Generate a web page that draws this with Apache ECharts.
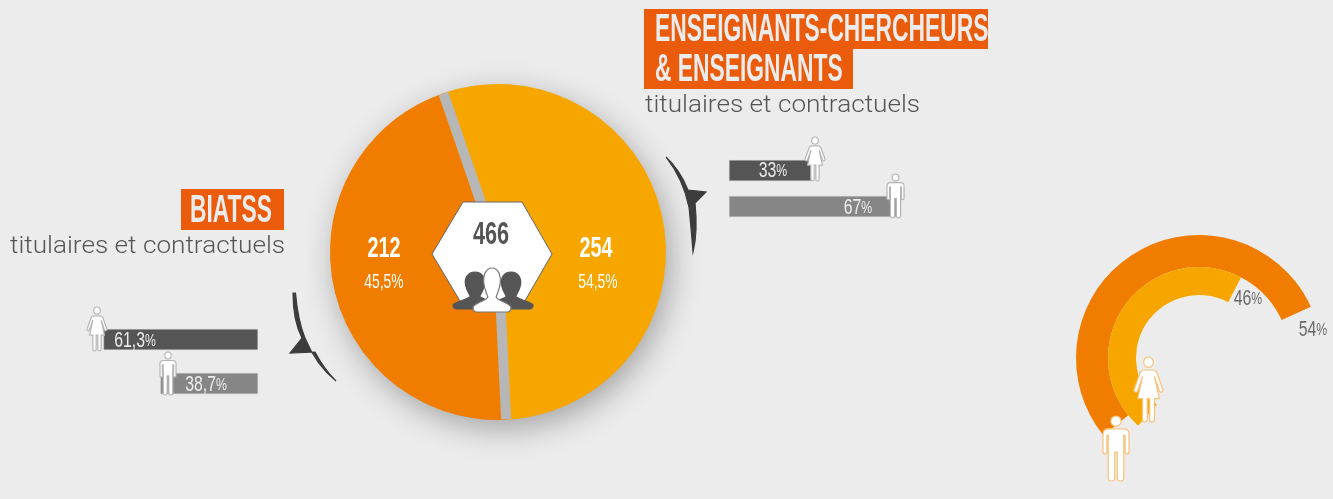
<!DOCTYPE html>
<html>
<head>
	<title>Effectifs BIATSS et enseignants</title>
	<meta charset="utf-8">
	<style type="text/css">
		html, body { margin: 0; padding: 0; background: #ececec; }
		#chart { width: 1333px; height: 499px; }
	</style>
</head>
<body>
<div id="chart"></div>

<script src="https://cdn.jsdelivr.net/npm/echarts@6/dist/echarts.min.js"></script>
<script type="text/javascript">

	// ===========================================  data
	var staffNames = ['ENSEIGNANTS-CHERCHEURS & ENSEIGNANTS', 'BIATSS'];
	var staffCounts = [254, 212];
	var staffShares = ['54,5%', '45,5%'];
	var staffTotal = 466;

	var genderNames = ['Femmes', 'Hommes'];
	var teacherGender = [33, 67];
	var biatssGender = [61.3, 38.7];
	var overallGender = [46, 54];

	var subtitle = 'titulaires et contractuels';

	// ===========================================  style
	var AMBER = '#f7a600', ORANGE = '#f07d00', HEAD = '#ea5b0c', TXT = '#ececec';
	var SANS = '"Liberation Sans", sans-serif';
	var PIE_C = [498, 252], PIE_R = 168, PIE_START = 109;

	var MAN = 'M10 0a4 4 0 1 1 0 8a4 4 0 1 1 0-8z M4 10h12q4 0 4 4v14a1.5 1.5 0 0 1-3 0v-13h-1v33a2.5 2.5 0 0 1-5 0v-20h-2v20a2.5 2.5 0 0 1-5 0v-33h-1v13a1.5 1.5 0 0 1-3 0v-14q0-4 4-4z';
	var WOMAN = 'M12 0a4 4 0 1 1 0 8a4 4 0 1 1 0-8z M8 10h8q2 0 3 2l5 13a1.5 1.5 0 0 1-3 1l-4-11l4 17h-4v16a2 2 0 0 1-4 0v-16h-2v16a2 2 0 0 1-4 0v-16h-4l4-17l-4 11a1.5 1.5 0 0 1-3-1l5-13q1-2 3-2z';
	var BUST = 'M23 0C31 0 34 8 33 15C32 22 29 26 28 29C30 33 42 34 46 39Q46 44 42 44L4 44Q0 44 0 39C4 34 16 33 18 29C17 26 14 22 13 15C12 8 15 0 23 0Z';

	// svg paths only work in a custom series, the graphic component has no path type
	function icon(path, x, y, w, h, fill, stroke) {
		return {
			type: 'path',
			shape: { pathData: path, layout: 'cover', x: x, y: y, width: w, height: h },
			style: { fill: fill, stroke: stroke, lineWidth: 1.2 }
		};
	}

	function rect(x, y, w, h) {
		return { type: 'rect', z: 20, silent: true, shape: { x: x, y: y, width: w, height: h }, style: { fill: HEAD } };
	}

	// no condensed font is installed, so the text is squeezed horizontally
	function heading(text, x, y) {
		return {
			type: 'text', z: 21, silent: true, x: x, y: y, scaleX: 0.585,
			style: { text: text, fill: TXT, font: 'bold 39px ' + SANS, verticalAlign: 'middle' }
		};
	}

	function subTitle(x, y) {
		return {
			type: 'text', z: 21, silent: true, x: x, y: y, scaleX: 1.09,
			style: { text: subtitle, fill: '#555', font: '300 24px Roboto', verticalAlign: 'middle' }
		};
	}

	function condensed(text, x, y, font, fill, squeeze) {
		return {
			type: 'text', z: 21, silent: true, x: x, y: y, scaleX: squeeze,
			style: { text: text, fill: fill, font: font + ' ' + SANS, align: 'center', verticalAlign: 'middle' }
		};
	}

	// number with a smaller percent sign
	function percentText(value, x, y, fill) {
		var s = String(value).replace('.', ',');
		return {
			type: 'text', z: 21, silent: true, x: x, y: y, scaleX: 0.72,
			style: {
				text: '{n|' + s + '}{p|%}', fill: fill, align: 'center', verticalAlign: 'middle',
				rich: {
					n: { fontFamily: 'Liberation Sans', fontSize: 22, fill: fill },
					p: { fontFamily: 'Liberation Sans', fontSize: 17, fill: fill }
				}
			}
		};
	}

	// grey band between two slices, follows the slice boundary computed from the data
	function separator(angle) {
		var rad = angle * Math.PI / 180;
		return {
			type: 'line', z: 10, silent: true,
			shape: {
				x1: PIE_C[0], y1: PIE_C[1],
				x2: PIE_C[0] + (PIE_R - 0.5) * Math.cos(rad),
				y2: PIE_C[1] - (PIE_R - 0.5) * Math.sin(rad)
			},
			style: { stroke: '#b7b7b7', lineWidth: 10 }
		};
	}

	function genderBars(gridIndex, values) {
		return {
			type: 'bar',
			xAxisIndex: gridIndex,
			yAxisIndex: gridIndex,
			barWidth: 21,
			silent: true,
			data: values.map(function(v, i) {
				return {
					value: v,
					itemStyle: { color: i === 0 ? '#555555' : '#868686', borderColor: '#c9c9c9', borderWidth: 0.5 }
				};
			})
		};
	}

	function ring(index, value, color) {
		return {
			type: 'bar',
			coordinateSystem: 'polar',
			polarIndex: index,
			barWidth: '100%',
			silent: true,
			itemStyle: { color: color },
			data: [value]
		};
	}

	function hiddenAxis(extra) {
		var axis = { show: false };
		for (var k in extra) axis[k] = extra[k];
		return axis;
	}

	var sliceAngle = 360 * staffCounts[0] / staffTotal;

	var graphics = [
		separator(PIE_START),
		separator(PIE_START - sliceAngle),

		// central hexagon
		{
			type: 'polygon', z: 15, silent: true,
			shape: { points: [[463, 202], [522, 202], [552, 254], [522, 306], [463, 306], [432, 254]] },
			style: { fill: '#fff', stroke: '#666', lineWidth: 1 }
		},
		condensed(String(staffTotal), 491, 235, 'bold 31px', '#555', 0.7),

		// pie labels
		condensed(String(staffCounts[0]), 596, 249, 'bold 30px', '#fff', 0.66),
		condensed(staffShares[0], 598, 282, '21px', '#fff', 0.66),
		condensed(String(staffCounts[1]), 384, 249, 'bold 30px', '#fff', 0.66),
		condensed(staffShares[1], 384, 282, '21px', '#fff', 0.66),

		// headings
		rect(644, 9, 344, 40),
		rect(644, 49, 209, 40),
		heading('ENSEIGNANTS-CHERCHEURS', 655, 30),
		heading('& ENSEIGNANTS', 655, 70),
		subTitle(645, 106),
		rect(181, 189, 103, 41),
		heading('BIATSS', 190, 211),
		subTitle(10, 247),

		// bar and ring labels
		percentText(teacherGender[0], 773, 171, TXT),
		percentText(teacherGender[1], 858, 208, TXT),
		percentText(biatssGender[0], 135, 341, TXT),
		percentText(biatssGender[1], 206, 385, TXT),
		percentText(overallGender[0], 1248, 299, '#6a6a6a'),
		percentText(overallGender[1], 1313, 330, '#6a6a6a')
	];

	// pictograms and curved arrows
	var pictograms = [
		icon(BUST, 453, 272, 44, 37, '#555', '#555'),
		icon(BUST, 489, 272, 44, 37, '#555', '#555'),
		icon(BUST, 473, 268, 38, 44, '#fff', '#777'),
		icon('M0 0Q14 13 22 33L40 35L29 46Q32 75 27 95Q25 70 23 50Q17 22 0 0Z', 666, 157, 40, 95, '#3c3c3c', '#3c3c3c'),
		icon('M3 0Q3 28 12 45L0 60L25 59Q34 76 46 88Q26 72 15 45Q8 28 5.5 0Z', 290, 293, 46, 88, '#3c3c3c', '#3c3c3c'),
		icon(WOMAN, 805, 137, 20, 44, '#fff', '#b5b5b5'),
		icon(MAN, 887, 174, 17, 44, '#fff', '#b5b5b5'),
		icon(WOMAN, 87, 307, 20, 44, '#fff', '#b5b5b5'),
		icon(MAN, 160, 352, 16, 43, '#fff', '#b5b5b5'),
		icon(WOMAN, 1134, 357, 29, 65, '#fff', '#f8c27a'),
		icon(MAN, 1103, 416, 26, 65, '#fff', '#f8c27a')
	];

	var option = {
		backgroundColor: '#ececec',
		animation: false,
		grid: [
			{ left: 729, top: 152.5, width: 250, height: 72 },
			{ left: 6, top: 317.5, width: 252, height: 88 }
		],
		xAxis: [
			hiddenAxis({ type: 'value', min: 0, max: 100, gridIndex: 0 }),
			hiddenAxis({ type: 'value', min: 0, max: 100, gridIndex: 1, inverse: true })
		],
		yAxis: [
			hiddenAxis({ type: 'category', data: genderNames, inverse: true, gridIndex: 0 }),
			hiddenAxis({ type: 'category', data: genderNames, inverse: true, gridIndex: 1 })
		],
		polar: [
			{ center: [1199, 358], radius: [91, 123] },
			{ center: [1199, 358], radius: [63, 91] }
		],
		angleAxis: [
			hiddenAxis({ polarIndex: 0, type: 'value', min: 0, max: 100, startAngle: 219 }),
			hiddenAxis({ polarIndex: 1, type: 'value', min: 0, max: 100, startAngle: 228 })
		],
		radiusAxis: [
			hiddenAxis({ polarIndex: 0, type: 'category', data: [genderNames[1]] }),
			hiddenAxis({ polarIndex: 1, type: 'category', data: [genderNames[0]] })
		],
		series: [
			// backing disc: gives the soft shadow
			{
				type: 'pie',
				center: PIE_C,
				radius: PIE_R - 1,
				silent: true,
				label: { show: false },
				labelLine: { show: false },
				itemStyle: {
					color: '#b7b7b7',
					shadowBlur: 32,
					shadowOffsetX: 5,
					shadowOffsetY: 9,
					shadowColor: 'rgba(0,0,0,0.32)'
				},
				data: [staffTotal]
			},
			{
				type: 'pie',
				center: PIE_C,
				radius: PIE_R,
				startAngle: PIE_START,
				silent: true,
				label: { show: false },
				labelLine: { show: false },
				data: staffNames.map(function(name, i) {
					return {
						name: name,
						value: staffCounts[i],
						itemStyle: { color: i === 0 ? AMBER : ORANGE }
					};
				})
			},
			genderBars(0, teacherGender),
			genderBars(1, biatssGender),
			ring(0, overallGender[1], ORANGE),
			ring(1, overallGender[0], AMBER),
			{
				type: 'custom',
				coordinateSystem: 'none',
				z: 20,
				silent: true,
				data: [0],
				renderItem: function() {
					return { type: 'group', children: pictograms };
				}
			}
		],
		graphic: { elements: graphics }
	};

	var myChart = echarts.init(document.getElementById('chart'));
	myChart.setOption(option);

</script>
</body>
</html>
